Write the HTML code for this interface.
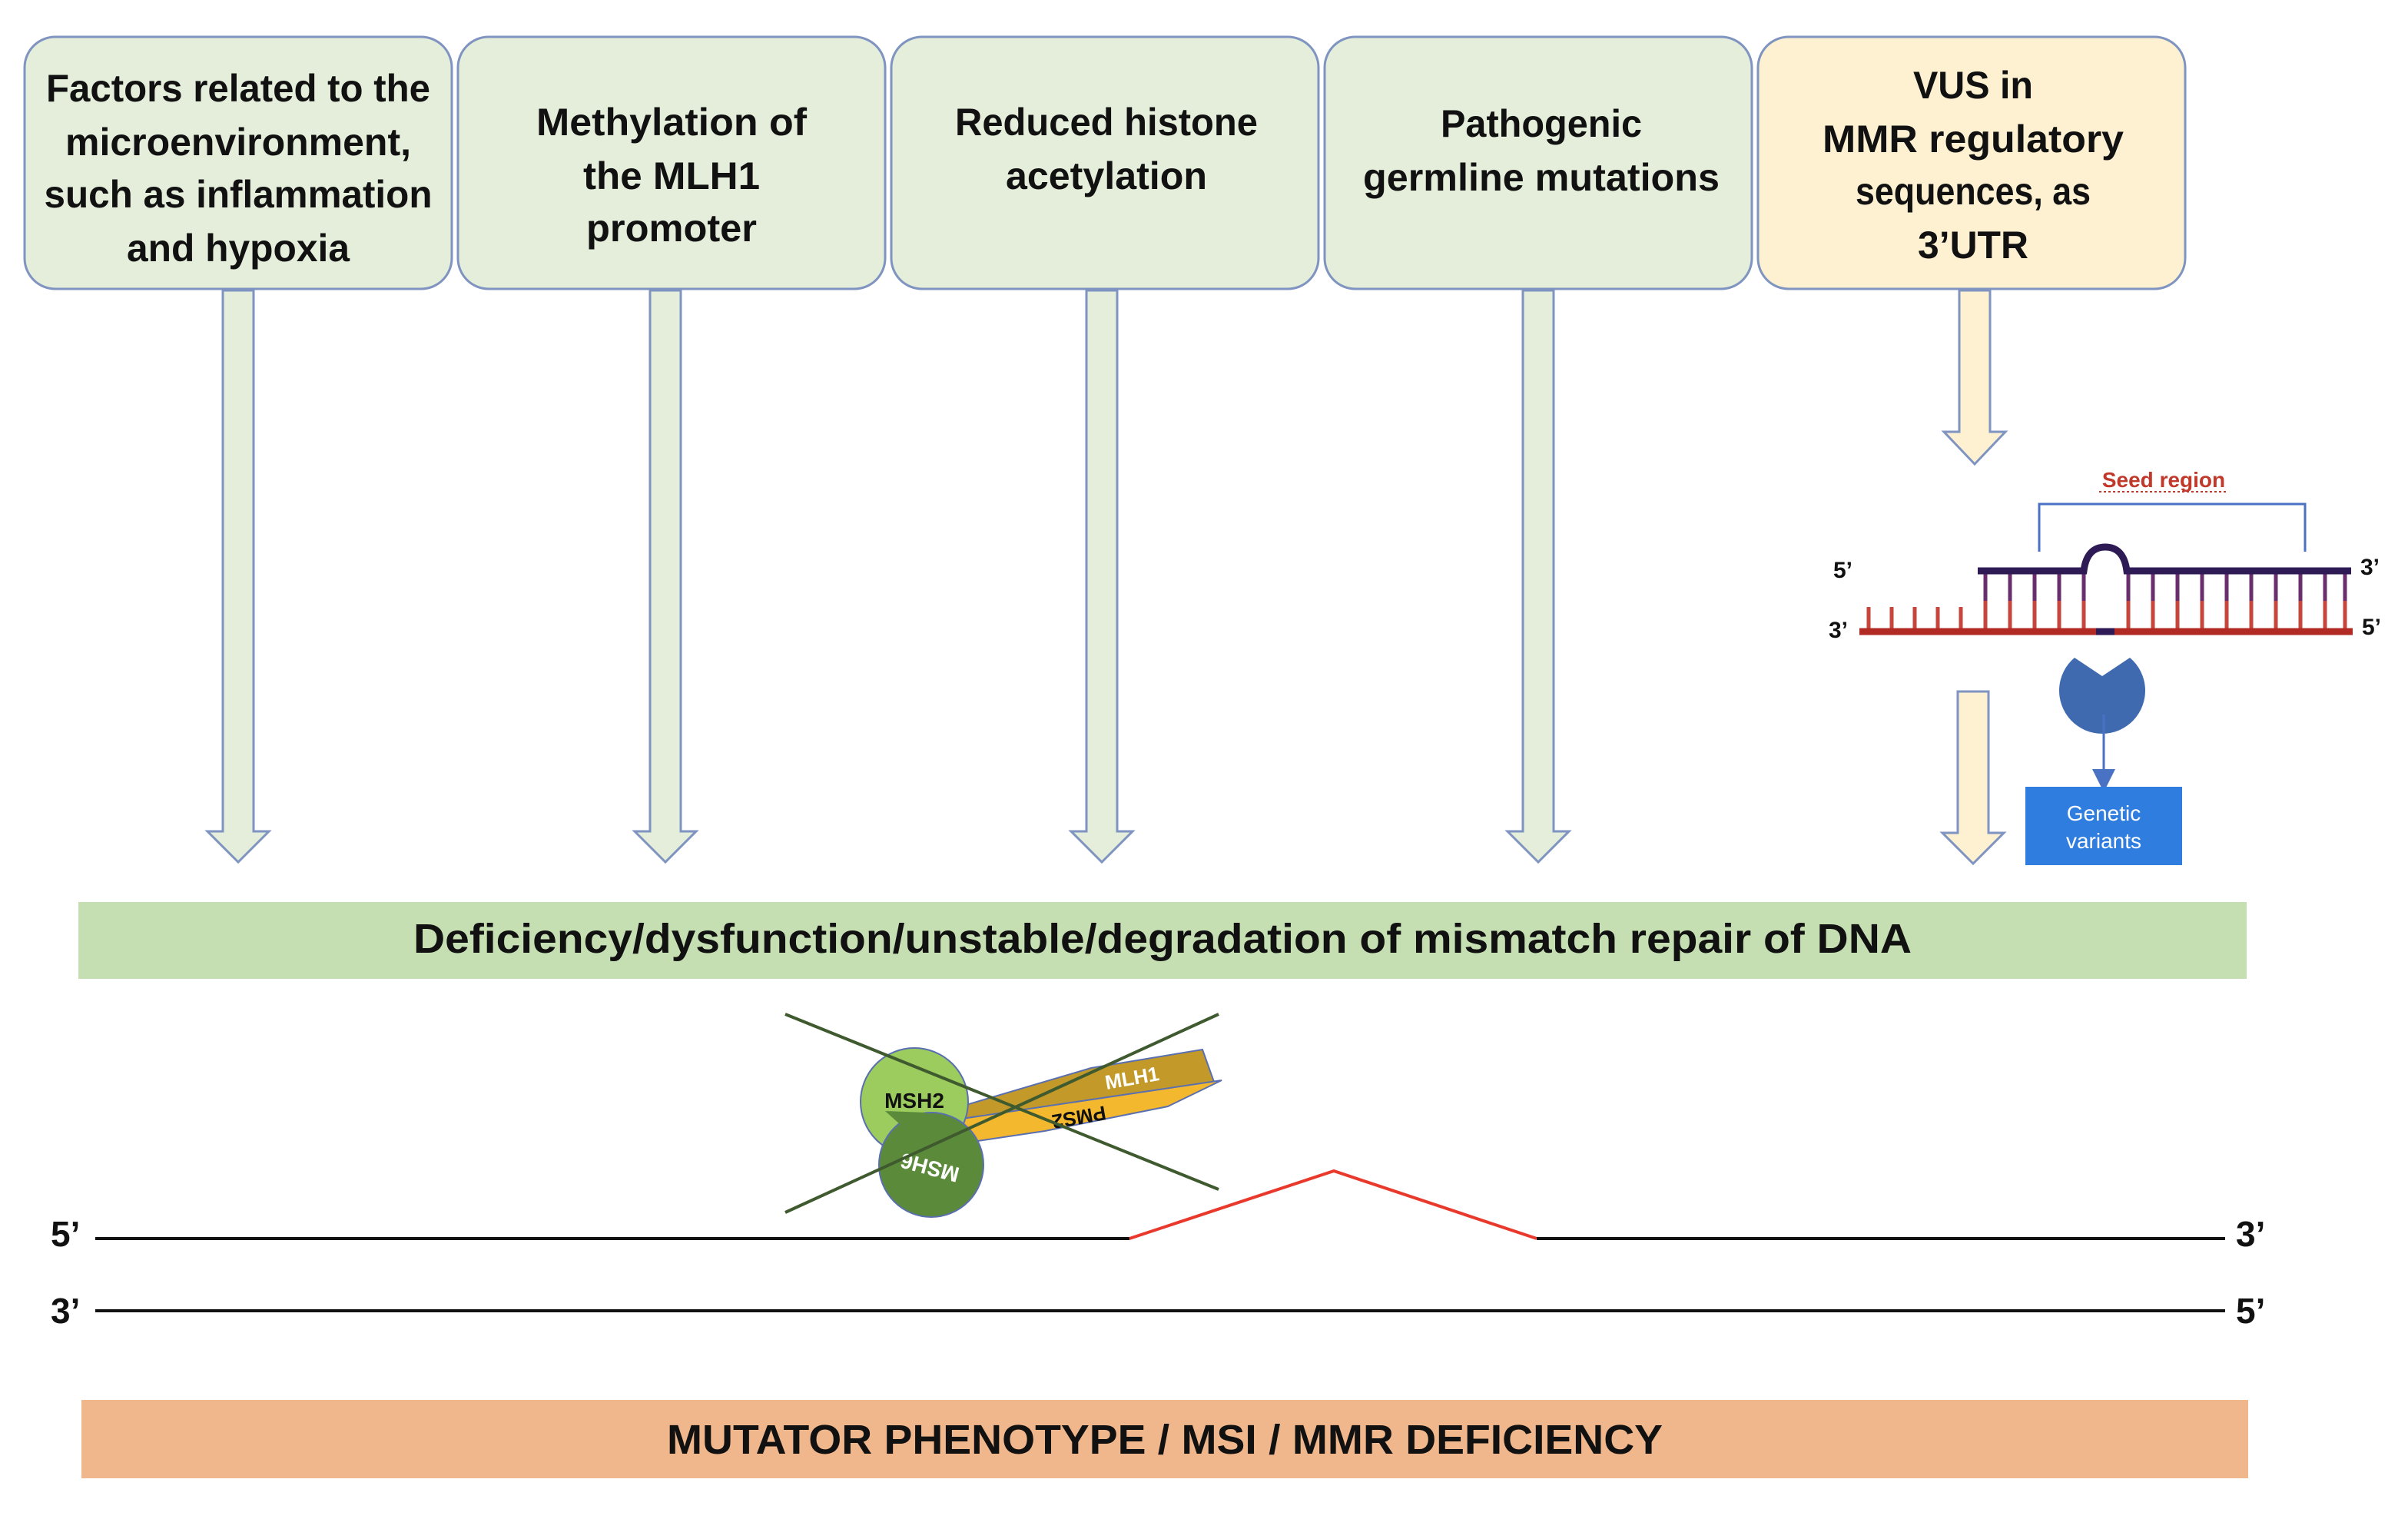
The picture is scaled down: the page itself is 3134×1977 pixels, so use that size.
<!DOCTYPE html>
<html><head><meta charset="utf-8"><style>
html,body{margin:0;padding:0;background:#fff;}
svg{display:block;}
text{font-family:"Liberation Sans",sans-serif;font-weight:bold;}
</style></head><body>
<svg width="3134" height="1977" viewBox="0 0 3134 1977" xmlns="http://www.w3.org/2000/svg">
<defs>
<marker id="ah" markerWidth="10" markerHeight="10" refX="5" refY="5" orient="auto"><path d="M0,0 L10,5 L0,10 Z" fill="#4a72c4"/></marker>
</defs>
<!-- boxes -->
<g stroke="#7f94c0" stroke-width="3">
<rect x="32" y="48" width="556" height="328" rx="40" fill="#e5eedb"/>
<rect x="596" y="48" width="556" height="328" rx="40" fill="#e5eedb"/>
<rect x="1160" y="48" width="556" height="328" rx="40" fill="#e5eedb"/>
<rect x="1724" y="48" width="556" height="328" rx="40" fill="#e5eedb"/>
<rect x="2288" y="48" width="556" height="328" rx="40" fill="#fdf1d2"/>
</g>
<g font-size="50" text-anchor="middle" fill="#111" lengthAdjust="spacingAndGlyphs">
<text x="310" y="132" textLength="500" lengthAdjust="spacingAndGlyphs">Factors related to the</text>
<text x="310" y="202" textLength="450" lengthAdjust="spacingAndGlyphs">microenvironment,</text>
<text x="310" y="270" textLength="505" lengthAdjust="spacingAndGlyphs">such as inflammation</text>
<text x="310" y="340" textLength="290" lengthAdjust="spacingAndGlyphs">and hypoxia</text>
<text x="874" y="176" textLength="352" lengthAdjust="spacingAndGlyphs">Methylation of</text>
<text x="874" y="246" textLength="230" lengthAdjust="spacingAndGlyphs">the MLH1</text>
<text x="874" y="314" textLength="222" lengthAdjust="spacingAndGlyphs">promoter</text>
<text x="1440" y="176" textLength="394" lengthAdjust="spacingAndGlyphs">Reduced histone</text>
<text x="1440" y="246" textLength="262" lengthAdjust="spacingAndGlyphs">acetylation</text>
<text x="2006" y="178" textLength="262" lengthAdjust="spacingAndGlyphs">Pathogenic</text>
<text x="2006" y="248" textLength="464" lengthAdjust="spacingAndGlyphs">germline mutations</text>
<text x="2568" y="128" textLength="156" lengthAdjust="spacingAndGlyphs">VUS in</text>
<text x="2568" y="198" textLength="392" lengthAdjust="spacingAndGlyphs">MMR regulatory</text>
<text x="2568" y="266" textLength="306" lengthAdjust="spacingAndGlyphs">sequences, as</text>
<text x="2568" y="336" textLength="144" lengthAdjust="spacingAndGlyphs">3’UTR</text>
</g>
<!-- block arrows -->
<g stroke="#7f94c0" stroke-width="3" fill="#e5eedb">
<path d="M290,378 H330 V1082 H350 L310,1122 L270,1082 H290 Z"/>
<path d="M846,378 H886 V1082 H906 L866,1122 L826,1082 H846 Z"/>
<path d="M1414,378 H1454 V1082 H1474 L1434,1122 L1394,1082 H1414 Z"/>
<path d="M1982,378 H2022 V1082 H2042 L2002,1122 L1962,1082 H1982 Z"/>
</g>
<g stroke="#7f94c0" stroke-width="3" fill="#fdf1d2">
<path d="M2550,378 H2590 V562 H2610 L2570,604 L2530,562 H2550 Z"/>
<path d="M2548,900 H2588 V1084 H2608 L2568,1124 L2528,1084 H2548 Z"/>
</g>
<!-- seed region -->
<text x="2816" y="634" font-size="28" fill="#c0392b" text-anchor="middle">Seed region</text>
<path d="M2732,640 H2900" stroke="#c0392b" stroke-width="2" stroke-dasharray="3,3"/>
<path d="M2654,718 V656 H3000 V718" fill="none" stroke="#4a72c4" stroke-width="3"/>
<g font-size="30" fill="#111">
<text x="2386" y="752">5’</text><text x="2380" y="830">3’</text>
<text x="3072" y="748">3’</text><text x="3074" y="826">5’</text>
</g>
<g stroke="#c8453c" stroke-width="5">
<line x1="2432" y1="790" x2="2432" y2="818"/><line x1="2462" y1="790" x2="2462" y2="818"/><line x1="2492" y1="790" x2="2492" y2="818"/><line x1="2522" y1="790" x2="2522" y2="818"/><line x1="2552" y1="790" x2="2552" y2="818"/>
</g>
<g stroke-width="5">
<g stroke="#6a2e6e">
<line x1="2584" y1="744" x2="2584" y2="818"/><line x1="2616" y1="744" x2="2616" y2="818"/><line x1="2648" y1="744" x2="2648" y2="818"/><line x1="2680" y1="744" x2="2680" y2="818"/><line x1="2712" y1="744" x2="2712" y2="818"/>
<line x1="2770" y1="744" x2="2770" y2="818"/><line x1="2802" y1="744" x2="2802" y2="818"/><line x1="2834" y1="744" x2="2834" y2="818"/><line x1="2866" y1="744" x2="2866" y2="818"/><line x1="2898" y1="744" x2="2898" y2="818"/><line x1="2930" y1="744" x2="2930" y2="818"/><line x1="2962" y1="744" x2="2962" y2="818"/><line x1="2994" y1="744" x2="2994" y2="818"/><line x1="3026" y1="744" x2="3026" y2="818"/><line x1="3052" y1="744" x2="3052" y2="818"/>
</g>
</g>
<rect x="2574" y="782" width="486" height="36" fill="#fff" opacity="0.0"/>
<g stroke="#c8453c" stroke-width="5">
<line x1="2584" y1="782" x2="2584" y2="818"/><line x1="2616" y1="782" x2="2616" y2="818"/><line x1="2648" y1="782" x2="2648" y2="818"/><line x1="2680" y1="782" x2="2680" y2="818"/><line x1="2712" y1="782" x2="2712" y2="818"/>
<line x1="2770" y1="782" x2="2770" y2="818"/><line x1="2802" y1="782" x2="2802" y2="818"/><line x1="2834" y1="782" x2="2834" y2="818"/><line x1="2866" y1="782" x2="2866" y2="818"/><line x1="2898" y1="782" x2="2898" y2="818"/><line x1="2930" y1="782" x2="2930" y2="818"/><line x1="2962" y1="782" x2="2962" y2="818"/><line x1="2994" y1="782" x2="2994" y2="818"/><line x1="3026" y1="782" x2="3026" y2="818"/><line x1="3052" y1="782" x2="3052" y2="818"/>
</g>
<path d="M2574,743 H2712 Q2716,712 2740,712 Q2764,712 2768,743 H3060" fill="none" stroke="#2e1a55" stroke-width="9"/>
<line x1="2420" y1="822" x2="3062" y2="822" stroke="#b22a24" stroke-width="9"/>
<line x1="2728" y1="822" x2="2752" y2="822" stroke="#2e1a55" stroke-width="9"/>
<path d="M2736,880 L2700,856 A56,56 0 1 0 2772,856 Z" fill="#3f6ab0"/>
<line x1="2738" y1="930" x2="2738" y2="1016" stroke="#4a72c4" stroke-width="3" marker-end="url(#ah)"/>
<rect x="2636" y="1024" width="204" height="102" fill="#2f7ddf"/>
<text x="2738" y="1068" font-size="28" font-weight="normal" fill="#fff" text-anchor="middle" style="font-weight:normal">Genetic</text>
<text x="2738" y="1104" font-size="28" fill="#fff" text-anchor="middle" style="font-weight:normal">variants</text>
<!-- bars -->
<rect x="102" y="1174" width="2822" height="100" fill="#c6dfb2"/>
<text x="1513" y="1240" font-size="54" text-anchor="middle" fill="#111" textLength="1950" lengthAdjust="spacingAndGlyphs">Deficiency/dysfunction/unstable/degradation of mismatch repair of DNA</text>
<rect x="106" y="1822" width="2820" height="102" fill="#f0b68c"/>
<text x="1516" y="1892" font-size="54" text-anchor="middle" fill="#111" textLength="1296" lengthAdjust="spacingAndGlyphs">MUTATOR PHENOTYPE / MSI / MMR DEFICIENCY</text>
<!-- DNA -->
<g font-size="46" fill="#111">
<text x="66" y="1622">5’</text><text x="66" y="1722">3’</text>
<text x="2910" y="1622">3’</text><text x="2910" y="1722">5’</text>
</g>
<polyline points="124,1612 1470,1612" stroke="#111" stroke-width="4" fill="none"/>
<polyline points="1470,1612 1736,1524 2000,1612" stroke="#e8392c" stroke-width="4" fill="none"/>
<polyline points="2000,1612 2896,1612" stroke="#111" stroke-width="4" fill="none"/>
<line x1="124" y1="1706" x2="2896" y2="1706" stroke="#111" stroke-width="4"/>
<!-- protein complex -->
<polygon points="1210,1452 1420,1390 1565,1366 1580,1408 1520,1420 1300,1470" fill="#c39a2a" stroke="#5a6fb0" stroke-width="2"/>
<polygon points="1225,1460 1590,1406 1520,1440 1360,1472 1225,1492" fill="#f3b82e" stroke="#5a6fb0" stroke-width="2"/>
<text x="1440" y="1418" font-size="26" fill="#fff" transform="rotate(-10 1440 1418)">MLH1</text>
<text x="1360" y="1466" font-size="26" fill="#111" transform="rotate(170 1400 1456)">PMS2</text>
<circle cx="1190" cy="1434" r="70" fill="#9ccb5e" stroke="#5a6fb0" stroke-width="2"/>
<circle cx="1212" cy="1516" r="68" fill="#5b8b3a" stroke="#5a6fb0" stroke-width="2"/>
<path d="M1152,1446 L1205,1448 L1212,1500" fill="#5b8b3a"/>
<text x="1190" y="1442" font-size="28" fill="#111" text-anchor="middle">MSH2</text>
<text x="1210" y="1530" font-size="28" fill="#fff" text-anchor="middle" transform="rotate(195 1210 1520)">MSH6</text>
<line x1="1022" y1="1320" x2="1586" y2="1548" stroke="#3f5a2e" stroke-width="4"/>
<line x1="1022" y1="1578" x2="1586" y2="1320" stroke="#3f5a2e" stroke-width="4"/>
</svg>
</body></html>
